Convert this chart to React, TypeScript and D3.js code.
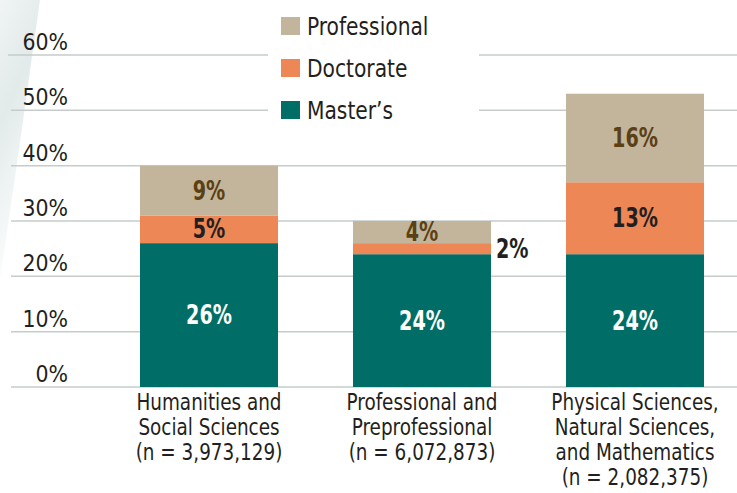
import React from 'react';
import * as d3 from 'd3';

const categories = [
  ['Humanities and', 'Social Sciences', '(n = 3,973,129)'],
  ['Professional and', 'Preprofessional', '(n = 6,072,873)'],
  ['Physical Sciences,', 'Natural Sciences,', 'and Mathematics', '(n = 2,082,375)'],
];
const masters = [26, 24, 24];
const doctorate = [5, 2, 13];
const professional = [9, 4, 16];
const yTicks = [0, 10, 20, 30, 40, 50, 60];
const seriesNames = ['Master’s', 'Doctorate', 'Professional'];

const colors = ['#006e66', '#ee8756', '#c2b59b'];
const labelColors = ['#ffffff', '#231f20', '#5a4015'];
const FONT = "'DejaVu Sans Condensed', 'DejaVu Sans', sans-serif";

// squeezed text, to get close to the condensed face of the original
const NText = ({ x, y, sx = 1, anchor = 'start', children, ...rest }: any) => (
  <text transform={`translate(${x},${y}) scale(${sx},1)`} textAnchor={anchor} {...rest}>{children}</text>
);

export default function App() {
  const W = 737, H = 493;
  const keys = categories.map((c, i) => String(i));
  const x = d3.scaleBand().domain(keys).range([102.5, 741.5]).paddingInner(0.352).paddingOuter(0.176);
  const y = d3.scaleLinear().domain([0, 60]).range([387, 55]);

  const rows = keys.map((k, i) => ({ key: k, m: masters[i], d: doctorate[i], p: professional[i] }));
  const stack = d3.stack<any>().keys(['m', 'd', 'p'])(rows);

  const legendOrder = [2, 1, 0];

  return (
    <svg width={W} height={H} style={{ position: 'absolute', left: 0, top: 0, fontFamily: FONT }}>
      <defs>
        <linearGradient id="swoosh" x1="0" y1="0" x2="0.3" y2="1">
          <stop offset="0%" stopColor="#f0f4f4" />
          <stop offset="40%" stopColor="#e2eaea" />
          <stop offset="100%" stopColor="#ffffff" />
        </linearGradient>
      </defs>
      <rect width={W} height={H} fill="#fff" />
      <path d="M0,0 L40,0 C30,70 18,160 0,280 Z" fill="url(#swoosh)" />

      {/* gridlines */}
      {yTicks.map(t => (
        <line key={t} x1={t === 60 ? 8 : 11} x2={W} y1={y(t)} y2={y(t)} stroke="#c5cccb" strokeWidth={1.5} />
      ))}
      {yTicks.map(t => (
        <NText key={'l' + t} x={68} y={y(t) - 5} anchor="end" sx={0.97} fontSize={23.5} fill="#231f20">{t}%</NText>
      ))}

      {/* legend */}
      <rect x={268} y={0} width={211} height={128} fill="#fff" />
      {legendOrder.map((s, j) => (
        <g key={s} transform={`translate(281,${17 + j * 42})`}>
          <rect width={19} height={18} fill={colors[s]} />
          <NText x={26} y={18} sx={0.9} fontSize={25} fill="#231f20">{seriesNames[s]}</NText>
        </g>
      ))}

      {/* bars */}
      {stack.map((layer, s) => (
        <g key={s}>
          {layer.map((seg, i) => {
            const bx = x(keys[i])!;
            const val = seg[1] - seg[0];
            const top = y(seg[1]);
            const h = y(seg[0]) - y(seg[1]);
            const mid = (y(seg[0]) + y(seg[1])) / 2;
            const outside = val < 3;
            return (
              <g key={i}>
                <rect x={bx} y={top} width={x.bandwidth()} height={h} fill={colors[s]} />
                <NText
                  x={outside ? bx + x.bandwidth() + 5 : bx + x.bandwidth() / 2}
                  y={mid + 9}
                  anchor={outside ? 'start' : 'middle'}
                  sx={0.82}
                  fontSize={26}
                  fontWeight="bold"
                  fill={outside ? '#231f20' : labelColors[s]}
                >
                  {val}%
                </NText>
              </g>
            );
          })}
        </g>
      ))}

      {/* category labels */}
      {categories.map((lines, i) => (
        <g key={i}>
          {lines.map((ln, j) => (
            <NText key={j} x={x(keys[i])! + x.bandwidth() / 2} y={410 + j * 25} anchor="middle" sx={0.87} fontSize={23.5} fill="#231f20">{ln}</NText>
          ))}
        </g>
      ))}
    </svg>
  );
}
